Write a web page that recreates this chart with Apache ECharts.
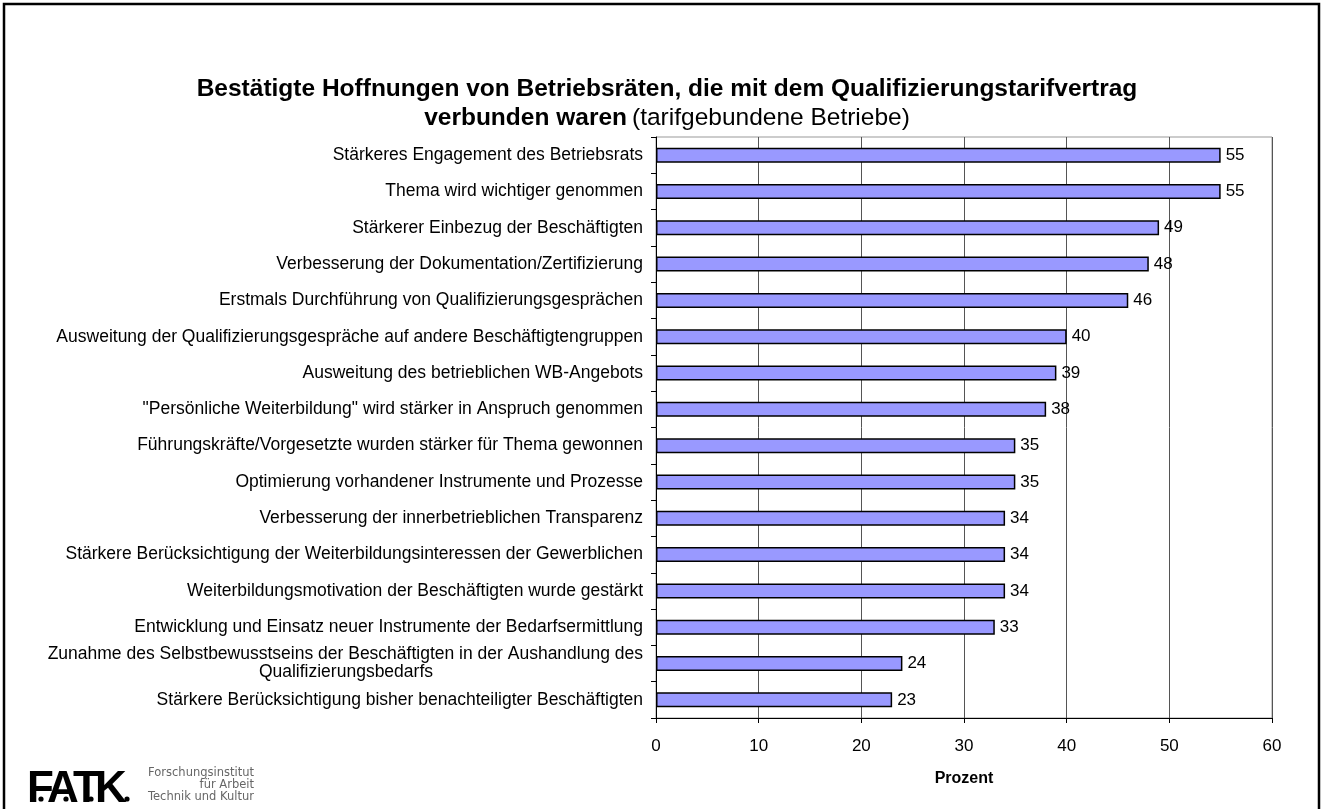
<!DOCTYPE html>
<html>
<head>
<meta charset="utf-8">
<script src="https://cdn.jsdelivr.net/npm/echarts@6/dist/echarts.min.js"></script>
<style>
  html, body { margin: 0; padding: 0; background: #fff; }
  #chart { width: 1323px; height: 809px; }
</style>
</head>
<body>
<div id="chart"></div>
<script>
const categories = [
  'Stärkeres Engagement des Betriebsrats',
  'Thema wird wichtiger genommen',
  'Stärkerer Einbezug der Beschäftigten',
  'Verbesserung der Dokumentation/Zertifizierung',
  'Erstmals Durchführung von Qualifizierungsgesprächen',
  'Ausweitung der Qualifizierungsgespräche auf andere Beschäftigtengruppen',
  'Ausweitung des betrieblichen WB-Angebots',
  '"Persönliche Weiterbildung" wird stärker in Anspruch genommen',
  'Führungskräfte/Vorgesetzte wurden stärker für Thema gewonnen',
  'Optimierung vorhandener Instrumente und Prozesse',
  'Verbesserung der innerbetrieblichen Transparenz',
  'Stärkere Berücksichtigung der Weiterbildungsinteressen der Gewerblichen',
  'Weiterbildungsmotivation der Beschäftigten wurde gestärkt',
  'Entwicklung und Einsatz neuer Instrumente der Bedarfsermittlung',
  'Zunahme des Selbstbewusstseins der Beschäftigten in der Aushandlung des\nQualifizierungsbedarfs',
  'Stärkere Berücksichtigung bisher benachteiligter Beschäftigten'
]
const percent = [55, 55, 49, 48, 46, 40, 39, 38, 35, 35, 34, 34, 34, 33, 24, 23]
const xTicks = [0, 10, 20, 30, 40, 50, 60]

const font = '"Liberation Sans", Arial, sans-serif'
const chart = echarts.init(document.getElementById('chart'), null, { renderer: 'canvas' })

chart.setOption({
  animation: false,
  backgroundColor: '#fff',
  textStyle: { fontFamily: font },
  title: {
    left: 662,
    top: 70,
    textAlign: 'center',
    text: '{b|Bestätigte Hoffnungen von Betriebsräten, die mit dem Qualifizierungstarifvertrag}\n{b|verbunden waren} {n|(tarifgebundene Betriebe)}',
    textStyle: {
      rich: {
        b: { fontFamily: font, fontSize: 24.5, fontWeight: 'bold', color: '#000', lineHeight: 29 },
        n: { fontFamily: font, fontSize: 24.5, fontWeight: 'normal', color: '#000', lineHeight: 29 }
      }
    }
  },
  grid: {
    left: 656,
    right: 51,
    top: 137,
    bottom: 91,
    show: true,
    borderColor: '#999',
    borderWidth: 1,
    containLabel: false
  },
  xAxis: {
    type: 'value',
    min: 0,
    max: 60,
    interval: 10,
    name: 'Prozent',
    nameLocation: 'middle',
    nameGap: 53,
    nameTextStyle: { color: '#000', fontSize: 16, fontWeight: 'bold', fontFamily: font },
    axisLine: { show: true, lineStyle: { color: '#000', width: 1 } },
    axisTick: { show: true, length: 5, lineStyle: { color: '#000' } },
    axisLabel: {
      color: '#000', fontSize: 17, margin: 20, fontFamily: font,
      formatter: (v) => xTicks.includes(v) ? String(v) : ''
    },
    splitLine: { show: true, lineStyle: { color: '#555', width: 1 } }
  },
  yAxis: {
    type: 'category',
    inverse: true,
    data: categories,
    axisLine: { show: true, lineStyle: { color: '#000', width: 1 } },
    axisTick: { show: true, length: 5, lineStyle: { color: '#000' } },
    axisLabel: {
      color: '#000', fontSize: 17.5, margin: 13, fontFamily: font, lineHeight: 18,
      formatter: (v) => {
        const parts = v.split('\n')
        if (parts.length === 1) return v
        return parts[0] + '\n{s|' + parts[1] + '}'
      },
      rich: {
        s: { fontSize: 17.5, fontFamily: font, color: '#000', padding: [0, 210, 0, 0], lineHeight: 18 }
      }
    },
    splitLine: { show: false }
  },
  series: [{
    type: 'bar',
    data: percent,
    barWidth: 15,
    itemStyle: { color: '#9999ff', borderColor: '#000', borderWidth: 1.5 },
    label: {
      show: true,
      position: 'right',
      distance: 5,
      color: '#000',
      fontSize: 17,
      fontFamily: font
    }
  }],
  graphic: [
    { type: 'rect', shape: { x: 4, y: 4, width: 1315, height: 820 }, style: { fill: 'none', stroke: '#000', lineWidth: 2.5 }, silent: true },
    { type: 'text', left: 27, top: 768, style: { text: 'F', fontFamily: font, fontSize: 44, fontWeight: 'bold', fill: '#000' } },
    { type: 'text', left: 47, top: 768, style: { text: 'A', fontFamily: font, fontSize: 44, fontWeight: 'bold', fill: '#000' } },
    { type: 'text', left: 73, top: 768, style: { text: 'T', fontFamily: font, fontSize: 44, fontWeight: 'bold', fill: '#000' } },
    { type: 'text', left: 95, top: 768, style: { text: 'K', fontFamily: font, fontSize: 44, fontWeight: 'bold', fill: '#000' } },
    { type: 'circle', shape: { cx: 41, cy: 799, r: 2.6 }, style: { fill: '#000' } },
    { type: 'circle', shape: { cx: 66, cy: 799, r: 2.6 }, style: { fill: '#000' } },
    { type: 'circle', shape: { cx: 91, cy: 799, r: 2.6 }, style: { fill: '#000' } },
    { type: 'circle', shape: { cx: 127, cy: 799, r: 2.6 }, style: { fill: '#000' } },
    { type: 'text', right: 1323 - 254, top: 767, style: { text: 'Forschungsinstitut', fontFamily: '"DejaVu Sans", sans-serif', fontSize: 11.5, fill: '#666' } },
    { type: 'text', right: 1323 - 254, top: 779, style: { text: 'für Arbeit', fontFamily: '"DejaVu Sans", sans-serif', fontSize: 11.5, fill: '#666' } },
    { type: 'text', right: 1323 - 254, top: 791, style: { text: 'Technik und Kultur', fontFamily: '"DejaVu Sans", sans-serif', fontSize: 11.5, fill: '#666' } }
  ]
})
</script>
</body>
</html>
